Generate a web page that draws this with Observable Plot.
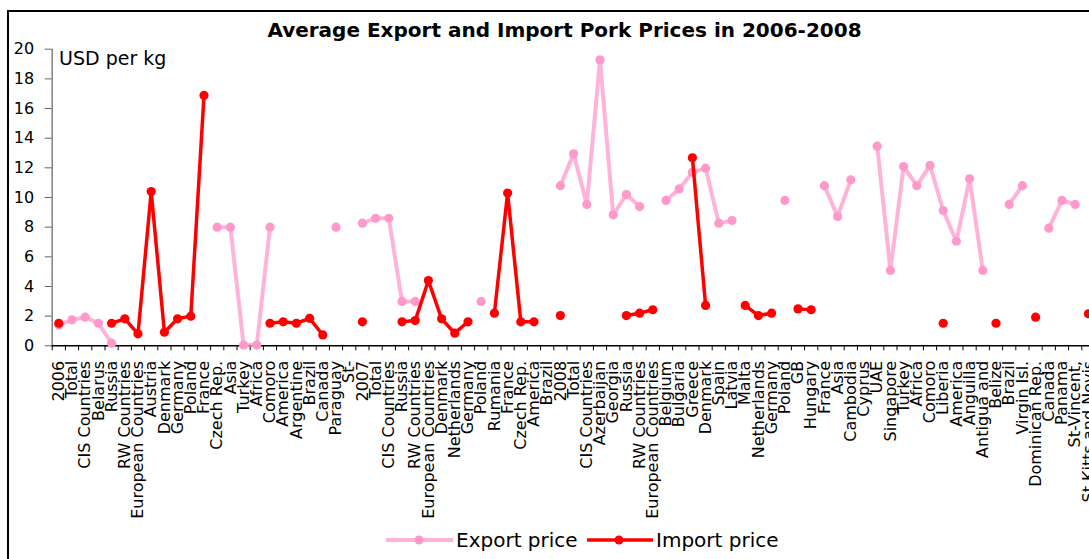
<!DOCTYPE html>
<html>
<head>
<meta charset="utf-8">
<script src="https://cdn.jsdelivr.net/npm/d3@7"></script>
<script src="https://cdn.jsdelivr.net/npm/@observablehq/plot@0.6"></script>
<style>
html, body { margin: 0; padding: 0; background: #fff; width: 1089px; height: 559px; overflow: hidden; font-family: "DejaVu Sans", Verdana, sans-serif; color: #000; }
#frame { position: absolute; left: 7px; top: 10px; width: 1300px; height: 800px; border: 2px solid #000; box-sizing: border-box; }
#chart { position: absolute; left: 0; top: 0; }
#title { position: absolute; left: 0; top: 20px; width: 1129px; text-align: center; font-weight: bold; font-size: 20px; line-height: 1; white-space: nowrap; }
#unit { position: absolute; left: 59px; top: 48.5px; font-size: 19px; line-height: 1; white-space: nowrap; }
.lg-text { position: absolute; top: 529.8px; font-size: 20px; line-height: 1; white-space: nowrap; }
.lg-sw { position: absolute; top: 533px; }
</style>
</head>
<body>
<div id="frame"></div>
<div id="chart"></div>
<div id="title">Average Export and Import Pork Prices in 2006-2008</div>
<div id="unit">USD per kg</div>
<svg class="lg-sw" style="left:386px" width="67" height="14"><line x1="0" x2="67" y1="7" y2="7" stroke="#ff99cc" stroke-opacity="0.75" stroke-width="4"/><circle cx="33" cy="7" r="4.5" fill="#ff99cc"/></svg>
<div class="lg-text" style="left:456px">Export price</div>
<svg class="lg-sw" style="left:587px" width="66" height="14"><line x1="0" x2="66" y1="7" y2="7" stroke="#ff0000" stroke-width="3.5"/><circle cx="32" cy="7" r="4.5" fill="#ff0000"/></svg>
<div class="lg-text" style="left:656px">Import price</div>
<script>
const categories = [
  "2006", "Total", "CIS Countries", "Belarus", "Russia", "RW Countries", "European Countries",
  "Austria", "Denmark", "Germany", "Poland", "France", "Czech Rep.", "Asia", "Turkey", "Africa",
  "Comoro", "America", "Argentine", "Brazil", "Canada", "Paraguay", "St-",
  "2007", "Total", "CIS Countries", "Russia", "RW Countries", "European Countries", "Denmark",
  "Netherlands", "Germany", "Poland", "Rumania", "France", "Czech Rep.", "America", "Brazil",
  "2008", "Total", "CIS Countries", "Azerbaijan", "Georgia", "Russia", "RW Countries",
  "European Countries", "Belgium", "Bulgaria", "Greece", "Denmark", "Spain", "Latvia", "Malta",
  "Netherlands", "Germany", "Poland", "GB", "Hungary", "France", "Asia", "Cambodia", "Cyprus",
  "UAE", "Singapore", "Turkey", "Africa", "Comoro", "Liberia", "America", "Anguilla",
  "Antigua and", "Belize", "Brazil", "Virgin Isl.", "Dominican Rep.", "Canada", "Panama",
  "St-Vincent,", "St Kitts and Nevis"
];

const exportPrice = [
  1.4, 1.75, 1.93, 1.52, 0.18, null, null,
  null, null, null, null, null, 8.0, 8.0, 0.05, 0.05,
  8.0, null, null, null, null, 8.0, null,
  8.27, 8.6, 8.6, 2.99, 2.99, null, null,
  null, null, 2.99, null, null, null, null, null,
  10.8, 12.95, 9.53, 19.28, 8.83, 10.2, 9.39,
  null, 9.8, 10.58, 11.7, 11.98, 8.27, 8.45, null,
  null, null, 9.8, null, null, 10.8, 8.72, 11.19, null,
  13.46, 5.08, 12.09, 10.8, 12.16, 9.12, 7.05, 11.26,
  5.08, null, 9.53, 10.8, null, 7.93, 9.8,
  9.53, null
];

const importPrice = [
  1.52, null, null, null, 1.52, 1.82, 0.81,
  10.4, 0.92, 1.82, 2.0, 16.88, null, null, null, null,
  1.52, 1.62, 1.52, 1.85, 0.73, null, null,
  1.62, null, null, 1.62, 1.7, 4.4, 1.82,
  0.85, 1.62, null, 2.2, 10.3, 1.62, 1.62, null,
  2.04, null, null, null, null, 2.04, 2.2,
  2.43, null, null, 12.68, 2.72, null, null, 2.72,
  2.04, 2.2, null, 2.49, 2.43, null, null, null, null,
  null, null, null, null, null, 1.52, null, null,
  null, 1.52, null, null, 1.93, null, null,
  null, 2.16
];

const yTicks = [0, 2, 4, 6, 8, 10, 12, 14, 16, 18, 20];

const N = categories.length;
const idx = d3.range(N);
const exportRows = idx.map(i => ({i, v: exportPrice[i]}));
const importRows = idx.map(i => ({i, v: importPrice[i]}));
const pink = "#ff99cc", red = "#ff0000";

const chart = Plot.plot({
  width: 1089,
  height: 559,
  marginLeft: 51.7,
  marginRight: 0,
  marginTop: 48.7,
  marginBottom: 213.7,
  style: {background: "transparent", fontFamily: "'DejaVu Sans', Verdana, sans-serif", color: "#000"},
  x: {type: "linear", domain: [-0.5, N - 0.5], range: [51.7, 51.7 + 13.2 * N]},
  y: {domain: [0, 20]},
  marks: [
    Plot.ruleX([-0.5], {y1: 0, y2: 20, stroke: "#808080", strokeWidth: 1.5}),
    Plot.axisY(yTicks, {label: null, tickSize: 7, tickPadding: 11, fontSize: 16, stroke: "#666"}),
    Plot.axisX(idx.map(i => i - 0.5).concat([N - 0.5]), {label: null, tickSize: 5, tickFormat: () => "", stroke: "#000"}),
    Plot.ruleY([0], {stroke: "#000", strokeWidth: 1.5}),
    Plot.axisX(idx, {label: null, tickSize: 0, tickPadding: 15, tickRotate: -90, tickFormat: i => categories[i], fontSize: 16, textAnchor: "end", lineAnchor: "middle"}),
    Plot.line(exportRows, {x: "i", y: "v", stroke: pink, strokeWidth: 4, strokeOpacity: 0.75}),
    Plot.dot(exportRows, {x: "i", y: "v", r: 4.6, fill: pink}),
    Plot.line(importRows, {x: "i", y: "v", stroke: red, strokeWidth: 3.5}),
    Plot.dot(importRows, {x: "i", y: "v", r: 4.6, fill: red})
  ]
});
document.getElementById("chart").appendChild(chart);
</script>
</body>
</html>
